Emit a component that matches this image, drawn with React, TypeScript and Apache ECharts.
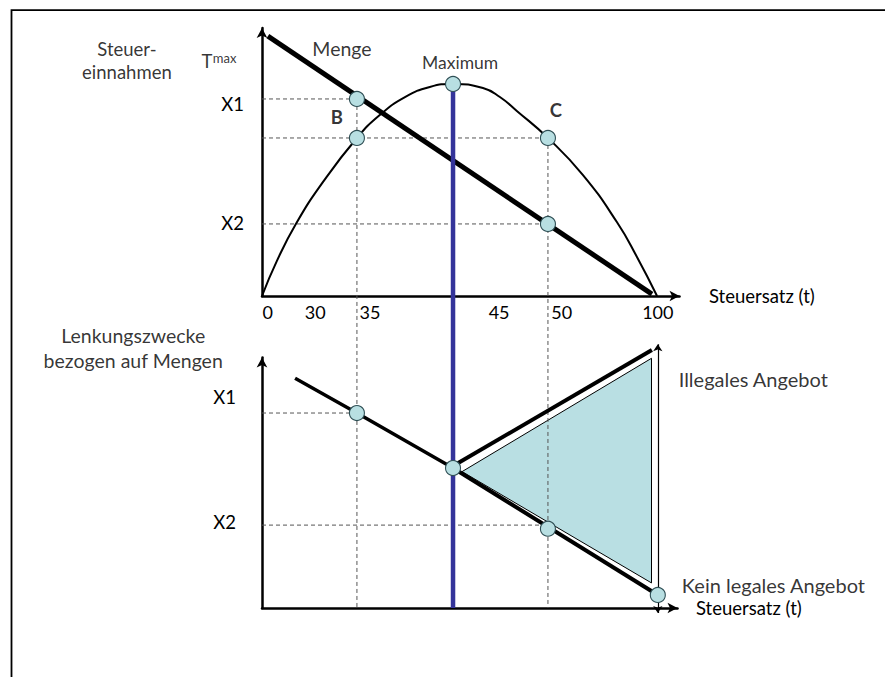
import React, { useEffect, useRef } from "react";
import * as echarts from "echarts";

// ---------- Upper panel: Steuereinnahmen (schematic units) ----------
const lafferX = [0, 3.7, 8.6, 15.5, 24.1, 29.9, 36.3, 42.6, 48.5, 56.1, 60.4, 64.7, 72.6, 81.5, 90.1, 95.2, 100.3];
const lafferY = [0, 12.6, 26.4, 41.8, 57.9, 66.3, 72.9, 76.6, 77.7, 76.2, 72.9, 67.8, 57.9, 44.3, 27.1, 14.3, 0];
const mengeX = [1.5, 99];
const mengeY = [95.2, 0.7];
const topPointX = [24.1, 24.1, 48.5, 72.6, 72.6];
const topPointY = [72.2, 57.9, 77.7, 57.9, 26.4];
const taxLabels = ["0", "30", "35", "45", "50", "100"];
const taxLabelPos = [1.45, 13.5, 27.4, 60.2, 76.1, 100.5];
const topLevelLabels = ["X1", "X2"];
const topLevelPos = [70.3, 26.7];
const topGuideLevel = [72.2, 57.9, 26.4];
const topGuideEndX = [24.1, 72.6, 72.6];
const vGuideX = [24.1, 72.6];
const vGuideFromY = [72.2, 57.9];
const maxX = 48.5;
const maxY = 77.7;
const lowerAxisInUpperUnits = -114.3;
const topTexts = ["Steuer-\neinnahmen", "T", "max", "Menge", "Maximum", "B", "C"];
const topTextX = [-34.3, -14.0, -9.5, 20.3, 50.3, 19.0, 74.6];
const topTextY = [86.4, 86.0, 87.2, 90.8, 85.7, 65.6, 68.1];

// ---------- Lower panel: Lenkungszwecke bezogen auf Mengen ----------
const lenkX = [8.4, 24.1, 48.5];
const lenkY = [89.8, 76.2, 54.7];
const illegalX = [48.5, 99.0];
const illegalY = [55.5, 100.8];
const legalX = [48.5, 100.5];
const legalY = [54.7, 5.1];
const areaX = [50.8, 98.9, 98.9];
const areaY = [53.3, 97.6, 9.8];
const botPointX = [24.1, 48.5, 72.6, 100.5];
const botPointY = [76.2, 54.7, 31.0, 5.1];
const botLevelLabels = ["X1", "X2"];
const botLevelPos = [82.4, 33.6];
const botGuideLevel = [76.2, 32.4];
const botGuideEndX = [24.1, 72.6];
const rangeX = 100.5;
const rangeY = [-2, 103.1];
const botTexts = ["Lenkungszwecke\nbezogen auf Mengen", "Illegales Angebot", "Kein legales Angebot"];
const botTextX = [-32.7, 105.8, 106.6];
const botTextY = [101.8, 89.5, 9.0];

const FONT = "Lato";
const zip = (xs: number[], ys: number[]) => xs.map((x, i) => [x, ys[i]]);

export default function App() {
  const ref = useRef<HTMLDivElement>(null);
  useEffect(() => {
    const chart = echarts.init(ref.current!, null, { renderer: "svg" });
    const dash = { color: "#555", width: 1, type: [4, 3] as any };
    const line = (gi: number, data: number[][], lineStyle: any, extra: any = {}) => ({
      type: "line",
      xAxisIndex: gi,
      yAxisIndex: gi,
      data,
      symbol: "none",
      showSymbol: false,
      clip: false,
      silent: true,
      lineStyle,
      ...extra,
    });
    const circleStyle = { color: "#b8dfe2", borderColor: "#2f4f55", borderWidth: 1.1, opacity: 1 };
    const labelFmt = (labels: string[], pos: number[]) => (v: number) => {
      const i = pos.findIndex((p) => Math.abs(p - v) < 1e-6);
      return i >= 0 ? labels[i] : "";
    };
    const axisLineStyle = {
      show: true,
      onZero: false,
      symbol: ["none", "arrow"],
      symbolSize: [8, 10],
      lineStyle: { color: "#000", width: 2.5 },
    };
    const txt = { color: "#000", fontFamily: FONT, fontSize: 18.5 };
    const topTextStyle: any[] = [
      { lineHeight: 23 },
      {},
      { fontSize: 13 },
      { fontSize: 19.5 },
      { fontSize: 17.5 },
      { fontWeight: "bold" },
      { fontWeight: "bold" },
    ];
    const botTextStyle: any[] = [
      { lineHeight: 25, fontSize: 19.5 },
      { fontSize: 20, position: "right", distance: 0 },
      { fontSize: 20, position: "right", distance: 0 },
    ];

    const series: any[] = [];
    topGuideLevel.forEach((lv, i) => series.push(line(0, [[0, lv], [topGuideEndX[i], lv]], dash)));
    vGuideX.forEach((x, i) => series.push(line(0, [[x, vGuideFromY[i]], [x, lowerAxisInUpperUnits]], dash)));
    botGuideLevel.forEach((lv, i) => series.push(line(1, [[0, lv], [botGuideEndX[i], lv]], dash)));
    series.push(line(0, zip(lafferX, lafferY), { color: "#000", width: 2 }, { smooth: 0.5 }));
    series.push(line(0, zip(mengeX, mengeY), { color: "#000", width: 5 }));
    series.push(line(1, zip(lenkX, lenkY), { color: "#000", width: 3.5 }));
    series.push({
      type: "custom",
      xAxisIndex: 1,
      yAxisIndex: 1,
      silent: true,
      data: [[areaX[0], areaY[0]]],
      renderItem: (_p: any, api: any) => ({
        type: "polygon",
        shape: { points: areaX.map((x, i) => api.coord([x, areaY[i]])) },
        style: { fill: "#b9dfe3", stroke: "#000", lineWidth: 1 },
      }),
    });
    series.push(line(1, zip(illegalX, illegalY), { color: "#000", width: 4 }));
    series.push(line(1, zip(legalX, legalY), { color: "#000", width: 4 }));
    series.push({
      type: "lines",
      coordinateSystem: "cartesian2d",
      xAxisIndex: 1,
      yAxisIndex: 1,
      clip: false,
      silent: true,
      symbol: ["arrow", "arrow"],
      symbolSize: 7,
      lineStyle: { color: "#000", width: 1.2, opacity: 1 },
      data: [{ coords: [[rangeX, rangeY[0]], [rangeX, rangeY[1]]] }],
    });
    series.push(line(0, [[maxX, maxY], [maxX, lowerAxisInUpperUnits]], { color: "#34349a", width: 4.5 }));
    series.push({
      type: "scatter",
      xAxisIndex: 0,
      yAxisIndex: 0,
      symbolSize: 15,
      clip: false,
      silent: true,
      z: 5,
      itemStyle: circleStyle,
      data: zip(topPointX, topPointY),
    });
    series.push({
      type: "scatter",
      xAxisIndex: 1,
      yAxisIndex: 1,
      symbolSize: 15,
      clip: false,
      silent: true,
      z: 5,
      itemStyle: circleStyle,
      data: zip(botPointX, botPointY),
    });
    series.push({
      type: "scatter",
      xAxisIndex: 0,
      yAxisIndex: 0,
      symbolSize: 0,
      clip: false,
      silent: true,
      label: { show: true, position: "inside", ...txt },
      data: topTexts.map((t, i) => ({
        value: [topTextX[i], topTextY[i]],
        label: { formatter: t, ...topTextStyle[i] },
      })),
    });
    series.push({
      type: "scatter",
      xAxisIndex: 1,
      yAxisIndex: 1,
      symbolSize: 0,
      clip: false,
      silent: true,
      label: { show: true, position: "inside", ...txt },
      data: botTexts.map((t, i) => ({
        value: [botTextX[i], botTextY[i]],
        label: { formatter: t, ...botTextStyle[i] },
      })),
    });

    const option: any = {
      animation: false,
      backgroundColor: "#fff",
      graphic: [
        {
          type: "rect",
          shape: { x: 11.5, y: 10.2, width: 900, height: 700 },
          style: { fill: "none", stroke: "#000", lineWidth: 1.8 },
          silent: true,
        },
      ],
      grid: [
        { left: 262, top: 28, width: 417.5, height: 268 },
        { left: 262, top: 357.5, width: 415.5, height: 250.5 },
      ],
      xAxis: [
        {
          gridIndex: 0,
          type: "value",
          min: 0,
          max: 106.0,
          axisLine: axisLineStyle,
          axisTick: { show: false },
          splitLine: { show: false },
          axisLabel: { ...txt, fontSize: 18, margin: 7, customValues: taxLabelPos, formatter: labelFmt(taxLabels, taxLabelPos) },
          name: "Steuersatz (t)",
          nameLocation: "end",
          nameGap: 29.5,
          nameTextStyle: { ...txt },
        },
        {
          gridIndex: 1,
          type: "value",
          min: 0,
          max: 105.5,
          axisLine: axisLineStyle,
          axisTick: { show: false },
          splitLine: { show: false },
          axisLabel: { show: false },
          name: "Steuersatz (t)",
          nameLocation: "end",
          nameGap: 18.5,
          nameTextStyle: { ...txt, padding: [6, 0, 0, 0] },
        },
      ],
      yAxis: [
        {
          gridIndex: 0,
          type: "value",
          min: 0,
          max: 98.2,
          axisLine: axisLineStyle,
          axisTick: { show: false },
          splitLine: { show: false },
          axisLabel: { ...txt, margin: 18, customValues: topLevelPos, formatter: labelFmt(topLevelLabels, topLevelPos) },
        },
        {
          gridIndex: 1,
          type: "value",
          min: 0,
          max: 97.9,
          axisLine: axisLineStyle,
          axisTick: { show: false },
          splitLine: { show: false },
          axisLabel: { ...txt, margin: 26, customValues: botLevelPos, formatter: labelFmt(botLevelLabels, botLevelPos) },
        },
      ],
      series,
    };
    chart.setOption(option);
    return () => chart.dispose();
  }, []);
  return (
    <div
      ref={ref}
      style={{ position: "fixed", left: 0, top: 0, width: 885, height: 677, background: "#fff" }}
    />
  );
}
